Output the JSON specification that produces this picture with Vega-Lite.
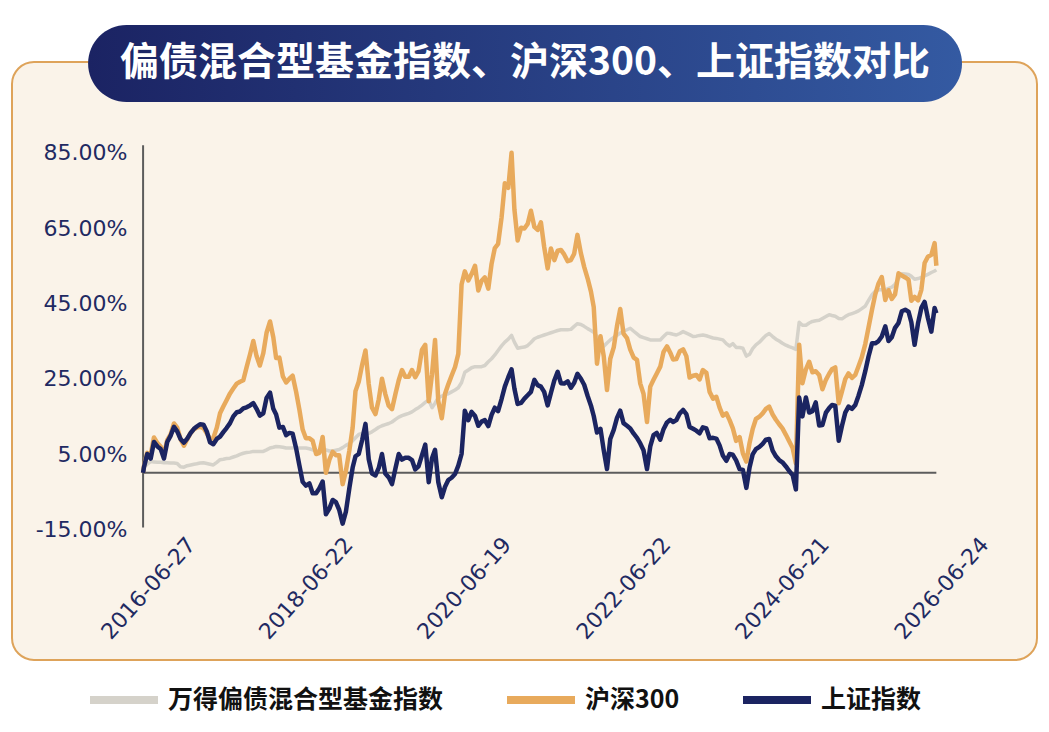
{
  "$schema": "https://vega.github.io/schema/vega-lite/v6.json",
  "width": 1025,
  "height": 598,
  "autosize": {"type": "none"},
  "padding": {"left": 12, "top": 62, "right": 12, "bottom": 72},
  "background": "white",
  "datasets": {
    "wind": [
      {"date":"2016-06-27","value":0},
      {"date":"2016-07-01","value":1.5},{"date":"2016-07-16","value":2.3},{"date":"2016-08-01","value":3},{"date":"2016-08-16","value":2.9},
      {"date":"2016-09-01","value":2.8},{"date":"2016-09-16","value":2.8},{"date":"2016-10-01","value":2.7},{"date":"2016-10-16","value":2.7},
      {"date":"2016-11-01","value":2.6},{"date":"2016-11-16","value":2.6},{"date":"2016-12-01","value":2.5},{"date":"2016-12-16","value":1.6},
      {"date":"2017-01-01","value":1.5},{"date":"2017-01-16","value":1.9},{"date":"2017-02-01","value":2.1},{"date":"2017-02-16","value":2.3},
      {"date":"2017-03-01","value":2.4},{"date":"2017-03-16","value":2.6},{"date":"2017-04-01","value":2.7},{"date":"2017-04-16","value":2.5},
      {"date":"2017-05-01","value":2.3},{"date":"2017-05-16","value":2.1},{"date":"2017-06-01","value":2.8},{"date":"2017-06-16","value":3.5},
      {"date":"2017-07-01","value":3.6},{"date":"2017-07-16","value":3.8},{"date":"2017-08-01","value":3.9},{"date":"2017-08-16","value":4.2},
      {"date":"2017-09-01","value":4.5},{"date":"2017-09-16","value":4.9},{"date":"2017-10-01","value":5.2},{"date":"2017-10-16","value":5.4},
      {"date":"2017-11-01","value":5.5},{"date":"2017-11-16","value":5.7},{"date":"2017-12-01","value":5.7},{"date":"2017-12-16","value":5.7},
      {"date":"2018-01-01","value":5.7},{"date":"2018-01-16","value":6.1},{"date":"2018-02-01","value":6.6},{"date":"2018-02-16","value":6.8},
      {"date":"2018-03-01","value":7},{"date":"2018-03-16","value":6.9},{"date":"2018-04-01","value":6.8},{"date":"2018-04-16","value":6.6},
      {"date":"2018-05-01","value":6.6},{"date":"2018-05-16","value":6.6},{"date":"2018-06-01","value":6.6},{"date":"2018-06-16","value":6.6},
      {"date":"2018-07-01","value":6.6},{"date":"2018-07-16","value":6.6},{"date":"2018-08-01","value":6.4},{"date":"2018-08-16","value":6.1},
      {"date":"2018-09-01","value":5.8},{"date":"2018-09-16","value":5.8},{"date":"2018-10-01","value":6},{"date":"2018-10-16","value":6.1},
      {"date":"2018-11-01","value":5.8},{"date":"2018-11-16","value":5.8},{"date":"2018-12-01","value":6},{"date":"2018-12-16","value":6.2},
      {"date":"2019-01-01","value":6.7},{"date":"2019-01-16","value":7.3},{"date":"2019-02-01","value":7.8},{"date":"2019-02-16","value":8.5},
      {"date":"2019-03-01","value":9.3},{"date":"2019-03-16","value":10.2},{"date":"2019-04-01","value":10.5},{"date":"2019-04-16","value":10.5},
      {"date":"2019-05-01","value":10.5},{"date":"2019-05-16","value":10.9},{"date":"2019-06-01","value":11.5},{"date":"2019-06-16","value":12.1},
      {"date":"2019-07-01","value":12.5},{"date":"2019-07-16","value":12.8},{"date":"2019-08-01","value":13.1},{"date":"2019-08-16","value":13.5},
      {"date":"2019-09-01","value":14.2},{"date":"2019-09-16","value":14.8},{"date":"2019-10-01","value":15.2},{"date":"2019-10-16","value":15.5},
      {"date":"2019-11-01","value":15.8},{"date":"2019-11-16","value":16.2},{"date":"2019-12-01","value":16.8},{"date":"2019-12-16","value":17.3},
      {"date":"2020-01-01","value":18},{"date":"2020-01-16","value":18.7},{"date":"2020-02-01","value":19.4},{"date":"2020-02-16","value":17.3},
      {"date":"2020-03-01","value":18.5},{"date":"2020-03-16","value":20},{"date":"2020-04-01","value":20.4},{"date":"2020-04-16","value":20.8},
      {"date":"2020-05-01","value":21},{"date":"2020-05-16","value":21.5},{"date":"2020-06-01","value":22},{"date":"2020-06-16","value":22.6},
      {"date":"2020-07-01","value":24},{"date":"2020-07-16","value":26.7},{"date":"2020-08-01","value":27.3},{"date":"2020-08-16","value":27.9},
      {"date":"2020-09-01","value":28.2},{"date":"2020-09-16","value":28.2},{"date":"2020-10-01","value":28.2},{"date":"2020-10-16","value":28.5},
      {"date":"2020-11-01","value":29.5},{"date":"2020-11-16","value":30.3},{"date":"2020-12-01","value":31.3},{"date":"2020-12-16","value":32.5},
      {"date":"2021-01-01","value":33.7},{"date":"2021-01-16","value":34.7},{"date":"2021-02-01","value":35.5},{"date":"2021-02-16","value":36.5},
      {"date":"2021-03-01","value":34.7},{"date":"2021-03-16","value":33.1},{"date":"2021-04-01","value":33.3},{"date":"2021-04-16","value":33.4},
      {"date":"2021-05-01","value":33.8},{"date":"2021-05-16","value":34.6},{"date":"2021-06-01","value":35.6},{"date":"2021-06-16","value":36},
      {"date":"2021-07-01","value":36.3},{"date":"2021-07-16","value":36.6},{"date":"2021-08-01","value":36.9},{"date":"2021-08-16","value":37.2},
      {"date":"2021-09-01","value":37.5},{"date":"2021-09-16","value":37.8},{"date":"2021-10-01","value":38},{"date":"2021-10-16","value":38},
      {"date":"2021-11-01","value":38},{"date":"2021-11-16","value":38.1},{"date":"2021-12-01","value":38.9},{"date":"2021-12-16","value":39.6},
      {"date":"2022-01-01","value":39.4},{"date":"2022-01-16","value":38.9},{"date":"2022-02-01","value":38.3},{"date":"2022-02-16","value":37.8},
      {"date":"2022-03-01","value":37.3},{"date":"2022-03-16","value":36.2},{"date":"2022-04-01","value":34.8},{"date":"2022-04-16","value":33.6},
      {"date":"2022-05-01","value":34.5},{"date":"2022-05-16","value":35.3},{"date":"2022-06-01","value":36},{"date":"2022-06-16","value":36.5},
      {"date":"2022-07-01","value":37.1},{"date":"2022-07-16","value":37.6},{"date":"2022-08-01","value":38},{"date":"2022-08-16","value":38.4},
      {"date":"2022-09-01","value":37.6},{"date":"2022-09-16","value":36.9},{"date":"2022-10-01","value":36.2},{"date":"2022-10-16","value":35.9},
      {"date":"2022-11-01","value":35.6},{"date":"2022-11-16","value":35.3},{"date":"2022-12-01","value":35.3},{"date":"2022-12-16","value":35.3},
      {"date":"2023-01-01","value":35.3},{"date":"2023-01-16","value":36.2},{"date":"2023-02-01","value":37.1},{"date":"2023-02-16","value":37},
      {"date":"2023-03-01","value":36.8},{"date":"2023-03-16","value":36.6},{"date":"2023-04-01","value":37},{"date":"2023-04-16","value":37.5},
      {"date":"2023-05-01","value":37.1},{"date":"2023-05-16","value":36.7},{"date":"2023-06-01","value":36.2},{"date":"2023-06-16","value":36.3},
      {"date":"2023-07-01","value":36.5},{"date":"2023-07-16","value":36.6},{"date":"2023-08-01","value":36.4},{"date":"2023-08-16","value":36.1},
      {"date":"2023-09-01","value":35.8},{"date":"2023-09-16","value":35.7},{"date":"2023-10-01","value":35.5},{"date":"2023-10-16","value":35.3},
      {"date":"2023-11-01","value":34.3},{"date":"2023-11-16","value":33.7},{"date":"2023-12-01","value":34.3},{"date":"2023-12-16","value":33.3},
      {"date":"2024-01-01","value":33.3},{"date":"2024-01-16","value":33.1},{"date":"2024-02-01","value":31},{"date":"2024-02-16","value":31.5},
      {"date":"2024-03-01","value":33},{"date":"2024-03-16","value":34},{"date":"2024-04-01","value":34.7},{"date":"2024-04-16","value":35.6},
      {"date":"2024-05-01","value":36.5},{"date":"2024-05-16","value":37},{"date":"2024-06-01","value":36.2},{"date":"2024-06-16","value":35.5},
      {"date":"2024-07-01","value":35},{"date":"2024-07-16","value":34.4},{"date":"2024-08-01","value":33.9},{"date":"2024-08-16","value":33.5},
      {"date":"2024-09-01","value":33.2},{"date":"2024-09-16","value":32.8},{"date":"2024-10-01","value":40},{"date":"2024-10-16","value":39.2},
      {"date":"2024-11-01","value":39.2},{"date":"2024-11-16","value":39.8},{"date":"2024-12-01","value":40.2},{"date":"2024-12-16","value":40.4},
      {"date":"2025-01-01","value":40.5},{"date":"2025-01-16","value":41},{"date":"2025-02-01","value":41.5},{"date":"2025-02-16","value":42},
      {"date":"2025-03-01","value":41.8},{"date":"2025-03-16","value":41.6},{"date":"2025-04-01","value":41},{"date":"2025-04-16","value":40.9},
      {"date":"2025-05-01","value":41.5},{"date":"2025-05-16","value":42},{"date":"2025-06-01","value":42.3},{"date":"2025-06-16","value":42.6},
      {"date":"2025-07-01","value":43},{"date":"2025-07-16","value":43.6},{"date":"2025-08-01","value":44.3},{"date":"2025-08-16","value":45.8},
      {"date":"2025-09-01","value":47.3},{"date":"2025-09-16","value":48.2},{"date":"2025-10-01","value":48.6},{"date":"2025-10-16","value":48.6},
      {"date":"2025-11-01","value":48.6},{"date":"2025-11-16","value":49},{"date":"2025-12-01","value":49.3},{"date":"2025-12-16","value":50.1},
      {"date":"2026-01-01","value":51.5},{"date":"2026-01-16","value":52.9},{"date":"2026-02-01","value":52.8},{"date":"2026-02-16","value":52.7},
      {"date":"2026-03-01","value":52.2},{"date":"2026-03-16","value":51.4},{"date":"2026-04-01","value":51.6},{"date":"2026-04-16","value":51.9},
      {"date":"2026-05-01","value":52.3},{"date":"2026-05-16","value":52.7},{"date":"2026-06-01","value":53.2},{"date":"2026-06-16","value":53.6},
      {"date":"2026-06-24","value":53.9}
    ],
    "hs300": [
      {"date":"2016-06-27","value":0},
      {"date":"2016-07-01","value":1.8},{"date":"2016-07-16","value":5.3},{"date":"2016-08-01","value":4.8},{"date":"2016-08-16","value":9.4},
      {"date":"2016-09-01","value":7.9},{"date":"2016-09-16","value":7},{"date":"2016-10-01","value":4.8},{"date":"2016-10-16","value":8.7},
      {"date":"2016-11-01","value":10.3},{"date":"2016-11-16","value":13.1},{"date":"2016-12-01","value":12},{"date":"2016-12-16","value":9},
      {"date":"2017-01-01","value":7.2},{"date":"2017-01-16","value":8.9},{"date":"2017-02-01","value":10.6},{"date":"2017-02-16","value":11.6},
      {"date":"2017-03-01","value":12},{"date":"2017-03-16","value":12.2},{"date":"2017-04-01","value":11.9},{"date":"2017-04-16","value":10.5},
      {"date":"2017-05-01","value":9},{"date":"2017-05-16","value":9.2},{"date":"2017-06-01","value":12},{"date":"2017-06-16","value":15.8},
      {"date":"2017-07-01","value":17.6},{"date":"2017-07-16","value":19.3},{"date":"2017-08-01","value":21.1},{"date":"2017-08-16","value":22.4},
      {"date":"2017-09-01","value":23.7},{"date":"2017-09-16","value":24.2},{"date":"2017-10-01","value":24.6},{"date":"2017-10-16","value":28},
      {"date":"2017-11-01","value":31.5},{"date":"2017-11-16","value":35},{"date":"2017-12-01","value":31},{"date":"2017-12-16","value":28.5},
      {"date":"2018-01-01","value":31.8},{"date":"2018-01-16","value":37.2},{"date":"2018-02-01","value":40.2},{"date":"2018-02-16","value":36},
      {"date":"2018-03-01","value":30.5},{"date":"2018-03-16","value":30.6},{"date":"2018-04-01","value":25.6},{"date":"2018-04-16","value":24},
      {"date":"2018-05-01","value":25},{"date":"2018-05-16","value":25.8},{"date":"2018-06-01","value":21.5},{"date":"2018-06-16","value":16.8},
      {"date":"2018-07-01","value":11.5},{"date":"2018-07-16","value":9.2},{"date":"2018-08-01","value":9.2},{"date":"2018-08-16","value":8.5},
      {"date":"2018-09-01","value":5},{"date":"2018-09-16","value":5.3},{"date":"2018-10-01","value":9.5},{"date":"2018-10-16","value":0},
      {"date":"2018-11-01","value":3.5},{"date":"2018-11-16","value":5.6},{"date":"2018-12-01","value":4.7},{"date":"2018-12-16","value":4.7},
      {"date":"2019-01-01","value":-3},{"date":"2019-01-16","value":0.5},{"date":"2019-02-01","value":6},{"date":"2019-02-16","value":12},
      {"date":"2019-03-01","value":21.7},{"date":"2019-03-16","value":24.2},{"date":"2019-04-01","value":28.8},{"date":"2019-04-16","value":32.5},
      {"date":"2019-05-01","value":23.6},{"date":"2019-05-16","value":17.3},{"date":"2019-06-01","value":15.6},{"date":"2019-06-16","value":19.5},
      {"date":"2019-07-01","value":25},{"date":"2019-07-16","value":21},{"date":"2019-08-01","value":17.8},{"date":"2019-08-16","value":16.9},
      {"date":"2019-09-01","value":21},{"date":"2019-09-16","value":24.6},{"date":"2019-10-01","value":27.3},{"date":"2019-10-16","value":25.5},
      {"date":"2019-11-01","value":25.5},{"date":"2019-11-16","value":27.3},{"date":"2019-12-01","value":25.4},{"date":"2019-12-16","value":27},
      {"date":"2020-01-01","value":32.7},{"date":"2020-01-16","value":34},{"date":"2020-02-01","value":19},{"date":"2020-02-16","value":26.2},
      {"date":"2020-03-01","value":35.3},{"date":"2020-03-16","value":19},{"date":"2020-04-01","value":14.5},{"date":"2020-04-16","value":21},
      {"date":"2020-05-01","value":23.5},{"date":"2020-05-16","value":25.8},{"date":"2020-06-01","value":28.1},{"date":"2020-06-16","value":31.6},
      {"date":"2020-07-01","value":50},{"date":"2020-07-16","value":53.5},{"date":"2020-08-01","value":51.1},{"date":"2020-08-16","value":52.8},
      {"date":"2020-09-01","value":55},{"date":"2020-09-16","value":48.4},{"date":"2020-10-01","value":51},{"date":"2020-10-16","value":51.9},
      {"date":"2020-11-01","value":48.9},{"date":"2020-11-16","value":55.5},{"date":"2020-12-01","value":59.7},{"date":"2020-12-16","value":60.8},
      {"date":"2021-01-01","value":67.8},{"date":"2021-01-16","value":76.9},{"date":"2021-02-01","value":75.7},{"date":"2021-02-16","value":85},
      {"date":"2021-03-01","value":70},{"date":"2021-03-16","value":61.7},{"date":"2021-04-01","value":65.1},{"date":"2021-04-16","value":64.9},
      {"date":"2021-05-01","value":66.1},{"date":"2021-05-16","value":69.6},{"date":"2021-06-01","value":65.3},{"date":"2021-06-16","value":64.5},
      {"date":"2021-07-01","value":66.5},{"date":"2021-07-16","value":60},{"date":"2021-08-01","value":54.3},{"date":"2021-08-16","value":59.6},
      {"date":"2021-09-01","value":56.5},{"date":"2021-09-16","value":59},{"date":"2021-10-01","value":59.2},{"date":"2021-10-16","value":58},
      {"date":"2021-11-01","value":56.2},{"date":"2021-11-16","value":56.5},{"date":"2021-12-01","value":58.2},{"date":"2021-12-16","value":63.2},
      {"date":"2022-01-01","value":58.3},{"date":"2022-01-16","value":54.7},{"date":"2022-02-01","value":51.6},{"date":"2022-02-16","value":48.2},
      {"date":"2022-03-01","value":44},{"date":"2022-03-16","value":29},{"date":"2022-04-01","value":36.3},{"date":"2022-04-16","value":31},
      {"date":"2022-05-01","value":22},{"date":"2022-05-16","value":30.3},{"date":"2022-06-01","value":33.3},{"date":"2022-06-16","value":39},
      {"date":"2022-07-01","value":43.5},{"date":"2022-07-16","value":37},{"date":"2022-08-01","value":35.8},{"date":"2022-08-16","value":32.7},
      {"date":"2022-09-01","value":30.6},{"date":"2022-09-16","value":30},{"date":"2022-10-01","value":23.7},{"date":"2022-10-16","value":21},
      {"date":"2022-11-01","value":13.5},{"date":"2022-11-16","value":22.9},{"date":"2022-12-01","value":24.7},{"date":"2022-12-16","value":26.4},
      {"date":"2023-01-01","value":28.2},{"date":"2023-01-16","value":32.1},{"date":"2023-02-01","value":33.6},{"date":"2023-02-16","value":31.9},
      {"date":"2023-03-01","value":30.1},{"date":"2023-03-16","value":30.2},{"date":"2023-04-01","value":32.3},{"date":"2023-04-16","value":32.8},
      {"date":"2023-05-01","value":31},{"date":"2023-05-16","value":25.3},{"date":"2023-06-01","value":25.8},{"date":"2023-06-16","value":26},
      {"date":"2023-07-01","value":24.8},{"date":"2023-07-16","value":27.3},{"date":"2023-08-01","value":26.6},{"date":"2023-08-16","value":21.5},
      {"date":"2023-09-01","value":19.7},{"date":"2023-09-16","value":20.2},{"date":"2023-10-01","value":17.3},{"date":"2023-10-16","value":15.2},
      {"date":"2023-11-01","value":15.8},{"date":"2023-11-16","value":14},{"date":"2023-12-01","value":11.8},{"date":"2023-12-16","value":8.5},
      {"date":"2024-01-01","value":9.5},{"date":"2024-01-16","value":5.2},{"date":"2024-02-01","value":3},{"date":"2024-02-16","value":8},
      {"date":"2024-03-01","value":11.6},{"date":"2024-03-16","value":14.3},{"date":"2024-04-01","value":14.9},{"date":"2024-04-16","value":15.8},
      {"date":"2024-05-01","value":17},{"date":"2024-05-16","value":17.6},{"date":"2024-06-01","value":15.5},{"date":"2024-06-16","value":14.1},
      {"date":"2024-07-01","value":12.9},{"date":"2024-07-16","value":11.8},{"date":"2024-08-01","value":10.1},{"date":"2024-08-16","value":8.4},
      {"date":"2024-09-01","value":6.6},{"date":"2024-09-16","value":2.5},{"date":"2024-10-01","value":34},{"date":"2024-10-16","value":23.8},
      {"date":"2024-11-01","value":27.5},{"date":"2024-11-16","value":29.5},{"date":"2024-12-01","value":26.7},{"date":"2024-12-16","value":27},
      {"date":"2025-01-01","value":26},{"date":"2025-01-16","value":22.2},{"date":"2025-02-01","value":24.7},{"date":"2025-02-16","value":26.3},
      {"date":"2025-03-01","value":27.5},{"date":"2025-03-16","value":28},{"date":"2025-04-01","value":18.5},{"date":"2025-04-16","value":21.6},
      {"date":"2025-05-01","value":24.9},{"date":"2025-05-16","value":26.4},{"date":"2025-06-01","value":25.2},{"date":"2025-06-16","value":26},
      {"date":"2025-07-01","value":28.3},{"date":"2025-07-16","value":30.7},{"date":"2025-08-01","value":34.2},{"date":"2025-08-16","value":38.6},
      {"date":"2025-09-01","value":43.3},{"date":"2025-09-16","value":47.4},{"date":"2025-10-01","value":50.3},{"date":"2025-10-16","value":52},
      {"date":"2025-11-01","value":45.9},{"date":"2025-11-16","value":48.5},{"date":"2025-12-01","value":46.2},{"date":"2025-12-16","value":47.4},
      {"date":"2026-01-01","value":53},{"date":"2026-01-16","value":52.4},{"date":"2026-02-01","value":51.9},{"date":"2026-02-16","value":51.3},
      {"date":"2026-03-01","value":45.7},{"date":"2026-03-16","value":46.7},{"date":"2026-04-01","value":45.8},{"date":"2026-04-16","value":48.6},
      {"date":"2026-05-01","value":55.7},{"date":"2026-05-16","value":57.4},{"date":"2026-06-01","value":57.9},{"date":"2026-06-16","value":61},
      {"date":"2026-06-24","value":55}
    ],
    "sse": [
      {"date":"2016-06-27","value":0},
      {"date":"2016-07-01","value":1.5},{"date":"2016-07-16","value":5},{"date":"2016-08-01","value":3.8},{"date":"2016-08-16","value":8.2},
      {"date":"2016-09-01","value":7},{"date":"2016-09-16","value":6.3},{"date":"2016-10-01","value":3.8},{"date":"2016-10-16","value":8.2},
      {"date":"2016-11-01","value":9.9},{"date":"2016-11-16","value":12.2},{"date":"2016-12-01","value":11},{"date":"2016-12-16","value":9},
      {"date":"2017-01-01","value":8},{"date":"2017-01-16","value":9.1},{"date":"2017-02-01","value":10.6},{"date":"2017-02-16","value":11.7},
      {"date":"2017-03-01","value":12.3},{"date":"2017-03-16","value":12.9},{"date":"2017-04-01","value":12.8},{"date":"2017-04-16","value":11},
      {"date":"2017-05-01","value":8.1},{"date":"2017-05-16","value":7.6},{"date":"2017-06-01","value":9},{"date":"2017-06-16","value":9.6},
      {"date":"2017-07-01","value":10.8},{"date":"2017-07-16","value":11.9},{"date":"2017-08-01","value":13.2},{"date":"2017-08-16","value":15},
      {"date":"2017-09-01","value":16.1},{"date":"2017-09-16","value":16.3},{"date":"2017-10-01","value":17.1},{"date":"2017-10-16","value":17.4},
      {"date":"2017-11-01","value":17.9},{"date":"2017-11-16","value":18.5},{"date":"2017-12-01","value":17},{"date":"2017-12-16","value":15.2},
      {"date":"2018-01-01","value":15.8},{"date":"2018-01-16","value":19.9},{"date":"2018-02-01","value":21.3},{"date":"2018-02-16","value":17},
      {"date":"2018-03-01","value":15.5},{"date":"2018-03-16","value":12},{"date":"2018-04-01","value":12.2},{"date":"2018-04-16","value":10},
      {"date":"2018-05-01","value":10.6},{"date":"2018-05-16","value":10.4},{"date":"2018-06-01","value":6.5},{"date":"2018-06-16","value":2},
      {"date":"2018-07-01","value":-2.4},{"date":"2018-07-16","value":-3.4},{"date":"2018-08-01","value":-2.8},{"date":"2018-08-16","value":-5.4},
      {"date":"2018-09-01","value":-5.4},{"date":"2018-09-16","value":-4.1},{"date":"2018-10-01","value":-2.3},{"date":"2018-10-16","value":-11},
      {"date":"2018-11-01","value":-9.5},{"date":"2018-11-16","value":-7.2},{"date":"2018-12-01","value":-7.8},{"date":"2018-12-16","value":-9.8},
      {"date":"2019-01-01","value":-13.5},{"date":"2019-01-16","value":-10.3},{"date":"2019-02-01","value":-4},{"date":"2019-02-16","value":1.4},
      {"date":"2019-03-01","value":4.4},{"date":"2019-03-16","value":5},{"date":"2019-04-01","value":8.8},{"date":"2019-04-16","value":13},
      {"date":"2019-05-01","value":3.6},{"date":"2019-05-16","value":-0.2},{"date":"2019-06-01","value":-0.7},{"date":"2019-06-16","value":1.3},
      {"date":"2019-07-01","value":5},{"date":"2019-07-16","value":-0.2},{"date":"2019-08-01","value":-1.2},{"date":"2019-08-16","value":-3},
      {"date":"2019-09-01","value":1.2},{"date":"2019-09-16","value":5},{"date":"2019-10-01","value":3.5},{"date":"2019-10-16","value":4},
      {"date":"2019-11-01","value":4},{"date":"2019-11-16","value":3.4},{"date":"2019-12-01","value":0.9},{"date":"2019-12-16","value":1.7},
      {"date":"2020-01-01","value":4.7},{"date":"2020-01-16","value":7.5},{"date":"2020-02-01","value":-2.5},{"date":"2020-02-16","value":3.9},
      {"date":"2020-03-01","value":6.1},{"date":"2020-03-16","value":-2.5},{"date":"2020-04-01","value":-6.5},{"date":"2020-04-16","value":-3.7},
      {"date":"2020-05-01","value":-1.9},{"date":"2020-05-16","value":-1.3},{"date":"2020-06-01","value":-0.3},{"date":"2020-06-16","value":1.9},
      {"date":"2020-07-01","value":5},{"date":"2020-07-16","value":16.5},{"date":"2020-08-01","value":14},{"date":"2020-08-16","value":16.2},
      {"date":"2020-09-01","value":15.1},{"date":"2020-09-16","value":12.5},{"date":"2020-10-01","value":13.6},{"date":"2020-10-16","value":14},
      {"date":"2020-11-01","value":12.4},{"date":"2020-11-16","value":15.4},{"date":"2020-12-01","value":17.3},{"date":"2020-12-16","value":16.4},
      {"date":"2021-01-01","value":19.6},{"date":"2021-01-16","value":22.9},{"date":"2021-02-01","value":25.4},{"date":"2021-02-16","value":27.5},
      {"date":"2021-03-01","value":22.4},{"date":"2021-03-16","value":18.3},{"date":"2021-04-01","value":18.6},{"date":"2021-04-16","value":19.7},
      {"date":"2021-05-01","value":20.6},{"date":"2021-05-16","value":21.5},{"date":"2021-06-01","value":24.7},{"date":"2021-06-16","value":23.3},
      {"date":"2021-07-01","value":22.9},{"date":"2021-07-16","value":21.5},{"date":"2021-08-01","value":17.9},{"date":"2021-08-16","value":21.2},
      {"date":"2021-09-01","value":24.6},{"date":"2021-09-16","value":26.8},{"date":"2021-10-01","value":23.8},{"date":"2021-10-16","value":23.7},
      {"date":"2021-11-01","value":24.3},{"date":"2021-11-16","value":22.6},{"date":"2021-12-01","value":23.9},{"date":"2021-12-16","value":26.3},
      {"date":"2022-01-01","value":25},{"date":"2022-01-16","value":23.4},{"date":"2022-02-01","value":20.4},{"date":"2022-02-16","value":17.9},
      {"date":"2022-03-01","value":15.1},{"date":"2022-03-16","value":10.7},{"date":"2022-04-01","value":11.7},{"date":"2022-04-16","value":6},
      {"date":"2022-05-01","value":1},{"date":"2022-05-16","value":9},{"date":"2022-06-01","value":11.4},{"date":"2022-06-16","value":14.6},
      {"date":"2022-07-01","value":16.5},{"date":"2022-07-16","value":13.2},{"date":"2022-08-01","value":12.5},{"date":"2022-08-16","value":11.8},
      {"date":"2022-09-01","value":10.4},{"date":"2022-09-16","value":9.3},{"date":"2022-10-01","value":7.8},{"date":"2022-10-16","value":6},
      {"date":"2022-11-01","value":1},{"date":"2022-11-16","value":7},{"date":"2022-12-01","value":10},{"date":"2022-12-16","value":10.6},
      {"date":"2023-01-01","value":8.8},{"date":"2023-01-16","value":11.6},{"date":"2023-02-01","value":13.4},{"date":"2023-02-16","value":14.1},
      {"date":"2023-03-01","value":13.5},{"date":"2023-03-16","value":14},{"date":"2023-04-01","value":15.8},{"date":"2023-04-16","value":16.7},
      {"date":"2023-05-01","value":15.6},{"date":"2023-05-16","value":12.2},{"date":"2023-06-01","value":11.7},{"date":"2023-06-16","value":11.2},
      {"date":"2023-07-01","value":10.5},{"date":"2023-07-16","value":12.1},{"date":"2023-08-01","value":11.8},{"date":"2023-08-16","value":9.2},
      {"date":"2023-09-01","value":9.3},{"date":"2023-09-16","value":9.1},{"date":"2023-10-01","value":7.3},{"date":"2023-10-16","value":4.6},
      {"date":"2023-11-01","value":3.2},{"date":"2023-11-16","value":5},{"date":"2023-12-01","value":4.8},{"date":"2023-12-16","value":3.3},
      {"date":"2024-01-01","value":1},{"date":"2024-01-16","value":0.8},{"date":"2024-02-01","value":-4},{"date":"2024-02-16","value":1.5},
      {"date":"2024-03-01","value":4.9},{"date":"2024-03-16","value":6.3},{"date":"2024-04-01","value":6.9},{"date":"2024-04-16","value":7.7},
      {"date":"2024-05-01","value":8.8},{"date":"2024-05-16","value":9},{"date":"2024-06-01","value":5.9},{"date":"2024-06-16","value":4.4},
      {"date":"2024-07-01","value":3.4},{"date":"2024-07-16","value":2.8},{"date":"2024-08-01","value":1.7},{"date":"2024-08-16","value":0.5},
      {"date":"2024-09-01","value":-0.6},{"date":"2024-09-16","value":-4.4},{"date":"2024-10-01","value":20},{"date":"2024-10-16","value":15},
      {"date":"2024-11-01","value":20},{"date":"2024-11-16","value":16},{"date":"2024-12-01","value":16.4},{"date":"2024-12-16","value":18.7},
      {"date":"2025-01-01","value":12.6},{"date":"2025-01-16","value":12.7},{"date":"2025-02-01","value":16},{"date":"2025-02-16","value":17.2},
      {"date":"2025-03-01","value":18},{"date":"2025-03-16","value":17.8},{"date":"2025-04-01","value":8.5},{"date":"2025-04-16","value":12.5},
      {"date":"2025-05-01","value":16},{"date":"2025-05-16","value":17.6},{"date":"2025-06-01","value":17},{"date":"2025-06-16","value":18},
      {"date":"2025-07-01","value":20.5},{"date":"2025-07-16","value":23.3},{"date":"2025-08-01","value":27},{"date":"2025-08-16","value":30.9},
      {"date":"2025-09-01","value":34.4},{"date":"2025-09-16","value":34.4},{"date":"2025-10-01","value":35},{"date":"2025-10-16","value":36.2},
      {"date":"2025-11-01","value":38.9},{"date":"2025-11-16","value":35},{"date":"2025-12-01","value":36},{"date":"2025-12-16","value":38.5},
      {"date":"2026-01-01","value":39.8},{"date":"2026-01-16","value":42.9},{"date":"2026-02-01","value":43.3},{"date":"2026-02-16","value":42.8},
      {"date":"2026-03-01","value":40},{"date":"2026-03-16","value":34},{"date":"2026-04-01","value":39.8},{"date":"2026-04-16","value":43.8},
      {"date":"2026-05-01","value":45.4},{"date":"2026-05-16","value":41.2},{"date":"2026-06-01","value":37.5},{"date":"2026-06-16","value":43.8},
      {"date":"2026-06-24","value":42.4}
    ]
  },
  "layer": [
    {
      "data": {"values": [{}]},
      "mark": {
        "type": "rect",
        "cornerRadius": 38.5,
        "fill": {
          "gradient": "linear",
          "x1": 0, "y1": 0, "x2": 1, "y2": 0,
          "stops": [
            {"offset": 0, "color": "#1b2363"},
            {"offset": 1, "color": "#345aa2"}
          ]
        }
      },
      "encoding": {
        "x": {"datum": {"year": 2015, "month": 10, "date": 18}, "type": "temporal"},
        "x2": {"datum": {"year": 2026, "month": 10, "date": 20}},
        "y": {"datum": 118.9, "type": "quantitative"},
        "y2": {"datum": 98.5}
      }
    },
    {
      "data": {"values": [{}]},
      "mark": {"type": "rule", "color": "#5c5c5c", "strokeWidth": 2},
      "encoding": {
        "x": {"datum": {"year": 2016, "month": 6, "date": 27}, "type": "temporal"},
        "y": {"datum": -14.5, "type": "quantitative"},
        "y2": {"datum": 87}
      }
    },
    {
      "data": {"values": [{}]},
      "mark": {"type": "rule", "color": "#5c5c5c", "strokeWidth": 2},
      "encoding": {
        "x": {"datum": {"year": 2016, "month": 6, "date": 27}, "type": "temporal"},
        "x2": {"datum": {"year": 2026, "month": 6, "date": 24}},
        "y": {"datum": 0, "type": "quantitative"}
      }
    },
    {
      "data": {"name": "wind"},
      "mark": {"type": "line", "strokeWidth": 3.5, "strokeJoin": "round"},
      "encoding": {
        "x": {
          "field": "date",
          "type": "temporal",
          "scale": {
            "domain": [{"year": 2014, "month": 11, "date": 2}, {"year": 2027, "month": 9, "date": 30}],
            "nice": false
          },
          "axis": {
            "title": null,
            "orient": "bottom",
            "offset": -72,
            "values": [
              {"year": 2016, "month": 6, "date": 27},
              {"year": 2018, "month": 6, "date": 22},
              {"year": 2020, "month": 6, "date": 19},
              {"year": 2022, "month": 6, "date": 22},
              {"year": 2024, "month": 6, "date": 21},
              {"year": 2026, "month": 6, "date": 24}
            ],
            "format": "%Y-%m-%d",
            "labelAngle": -48,
            "labelAlign": "center",
            "labelBaseline": "middle",
            "labelPadding": 0,
            "labelOffset": 5,
            "labelFontSize": 22,
            "labelFlush": false,
            "labelOverlap": false
          }
        },
        "y": {
          "field": "value",
          "type": "quantitative",
          "scale": {"domain": [-49.7, 109.1], "nice": false, "zero": false},
          "axis": {
            "title": null,
            "offset": -131,
            "values": [-15, 5, 25, 45, 65, 85],
            "labelExpr": "(datum.value < 0 ? '-' : '') + format(abs(datum.value), '.2f') + '%'",
            "labelFontSize": 22,
            "labelPadding": 16
          }
        },
        "color": {
          "datum": "万得偏债混合型基金指数",
          "type": "nominal",
          "scale": {
            "domain": ["万得偏债混合型基金指数", "沪深300", "上证指数"],
            "range": ["#d5d2ca", "#e8aa5c", "#1b2461"]
          },
          "legend": {
            "title": null,
            "orient": "none",
            "legendX": 74,
            "legendY": 600,
            "direction": "horizontal",
            "symbolType": "stroke",
            "symbolSize": 4624,
            "symbolStrokeWidth": 8,
            "labelFont": "Noto Sans CJK SC",
            "labelFontSize": 25,
            "labelFontWeight": "bold",
            "labelColor": "#111111",
            "labelOffset": 6,
            "labelLimit": 400,
            "columnPadding": 47
          }
        }
      }
    },
    {
      "data": {"name": "hs300"},
      "mark": {"type": "line", "strokeWidth": 4.5, "strokeJoin": "round"},
      "encoding": {
        "x": {"field": "date", "type": "temporal"},
        "y": {"field": "value", "type": "quantitative"},
        "color": {"datum": "沪深300", "type": "nominal"}
      }
    },
    {
      "data": {"name": "sse"},
      "mark": {"type": "line", "strokeWidth": 4.5, "strokeJoin": "round"},
      "encoding": {
        "x": {"field": "date", "type": "temporal"},
        "y": {"field": "value", "type": "quantitative"},
        "color": {"datum": "上证指数", "type": "nominal"}
      }
    },
    {
      "data": {"values": [{}]},
      "mark": {
        "type": "text",
        "text": "偏债混合型基金指数、沪深300、上证指数对比",
        "font": "Noto Sans CJK SC",
        "fontSize": 39,
        "fontWeight": "bold",
        "color": "white",
        "align": "center",
        "baseline": "middle"
      },
      "encoding": {
        "x": {"datum": {"year": 2021, "month": 4, "date": 19}, "type": "temporal"},
        "y": {"datum": 108.8, "type": "quantitative"}
      }
    }
  ],
  "config": {
    "view": {"fill": "#faf3e9", "stroke": "#dea35a", "strokeWidth": 2, "cornerRadius": 22},
    "axis": {
      "grid": false,
      "ticks": false,
      "tickSize": 0,
      "domain": false,
      "labelFont": "DejaVu Sans",
      "labelColor": "#1f2a62"
    }
  }
}
